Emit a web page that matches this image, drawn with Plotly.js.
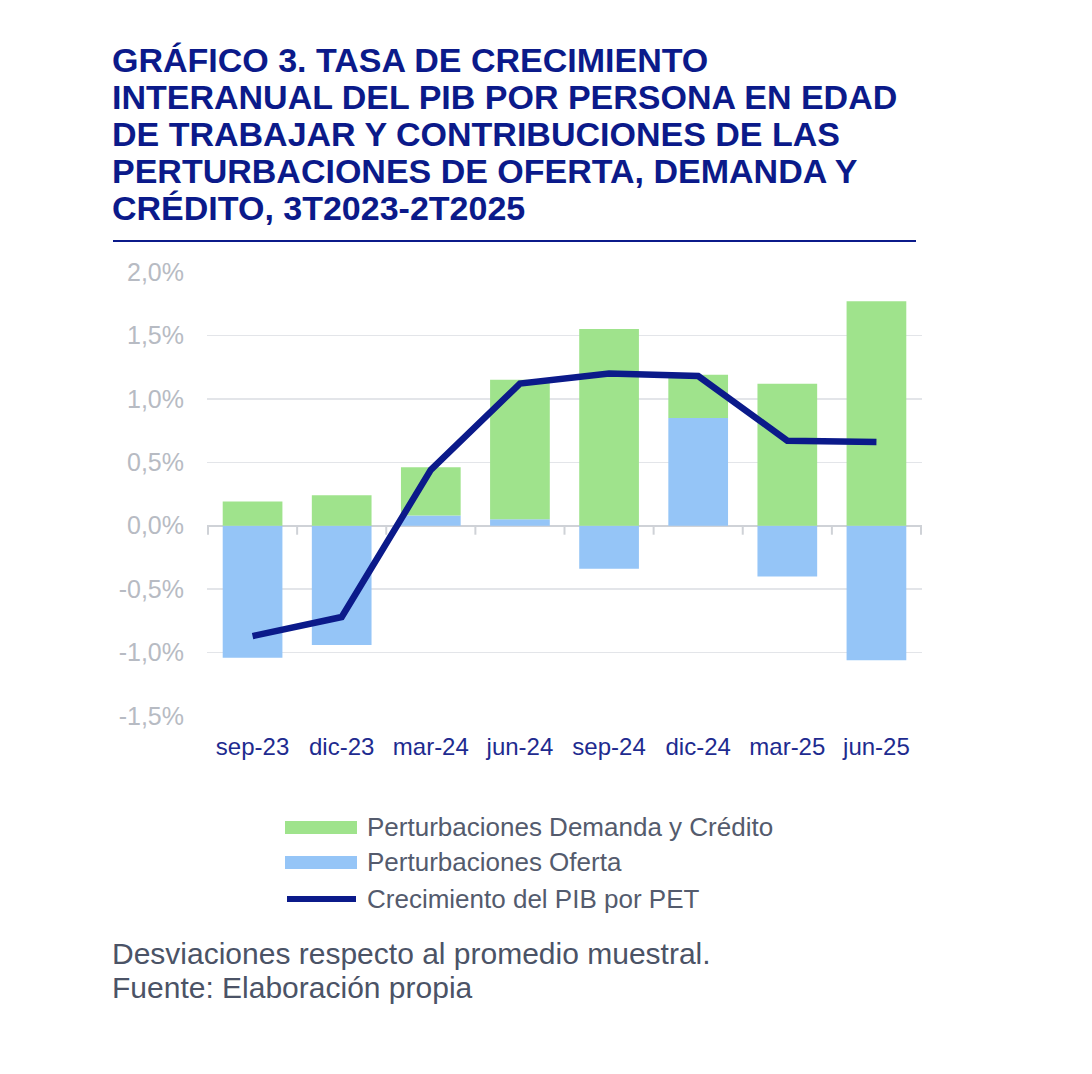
<!DOCTYPE html>
<html>
<head>
<meta charset="utf-8">
<script src="https://cdn.plot.ly/plotly-3.0.1.min.js"></script>
<style>
  html, body { margin: 0; padding: 0; background: #ffffff; }
  #chart { width: 1092px; height: 1074px; }
</style>
</head>
<body>
<div id="chart"></div>
<script>
// ---- Data ----
const categories = ["sep-23", "dic-23", "mar-24", "jun-24", "sep-24", "dic-24", "mar-25", "jun-25"];
const oferta = [-1.04, -0.94, 0.08, 0.05, -0.34, 0.85, -0.40, -1.06];
const demandaCredito = [0.19, 0.24, 0.38, 1.10, 1.55, 0.34, 1.12, 1.77];
const crecimientoPIB = [-0.87, -0.72, 0.44, 1.12, 1.20, 1.18, 0.67, 0.66];
const yTickValues = [-1.5, -1.0, -0.5, 0.0, 0.5, 1.0, 1.5, 2.0];
const yTickLabels = ["-1,5%", "-1,0%", "-0,5%", "0,0%", "0,5%", "1,0%", "1,5%", "2,0%"];

const seriesNames = {
  demanda: "Perturbaciones Demanda y Crédito",
  oferta: "Perturbaciones Oferta",
  pib: "Crecimiento del PIB por PET"
};
const titleLines = [
  "GRÁFICO 3. TASA DE CRECIMIENTO",
  "INTERANUAL DEL PIB POR PERSONA EN EDAD",
  "DE TRABAJAR Y CONTRIBUCIONES DE LAS",
  "PERTURBACIONES DE OFERTA, DEMANDA Y",
  "CRÉDITO, 3T2023-2T2025"
];
const footnotes = ["Desviaciones respecto al promedio muestral.", "Fuente: Elaboración propia"];

// ---- Styles ----
const GREEN = "#9fe38c";
const BLUE = "#95c5f7";
const NAVY = "#0b1a8a";
const FONT = "Liberation Sans, Arial, sans-serif";

const W = 1092, H = 1074;
const M = { l: 207, r: 170, t: 272, b: 358 };
const PW = W - M.l - M.r, PH = H - M.t - M.b;
const px2x = px => (px - M.l) / PW;
const py2y = py => (H - M.b - py) / PH;

const traces = [
  { type: "bar", x: categories, y: oferta, name: seriesNames.oferta,
    marker: { color: BLUE, line: { width: 0 } }, showlegend: false, hoverinfo: "x+y" },
  { type: "bar", x: categories, y: demandaCredito, name: seriesNames.demanda,
    marker: { color: GREEN, line: { width: 0 } }, showlegend: false, hoverinfo: "x+y" },
  { type: "scatter", mode: "lines", x: categories, y: crecimientoPIB, name: seriesNames.pib,
    line: { color: NAVY, width: 6.5 }, showlegend: false, hoverinfo: "x+y" }
];

const shapes = [];
// title underline
shapes.push({ type: "line", xref: "paper", yref: "paper",
  x0: px2x(113), x1: px2x(916), y0: py2y(241), y1: py2y(241),
  line: { color: NAVY, width: 2 } });
// category boundary ticks on the zero line
for (let i = 0; i <= categories.length; i++) {
  shapes.push({ type: "line", xref: "x", yref: "y", ysizemode: "pixel", yanchor: 0,
    x0: i - 0.5, x1: i - 0.5, y0: 0, y1: -9,
    line: { color: "#cfd2d7", width: 2 } });
}
// legend symbols
shapes.push({ type: "rect", xref: "paper", yref: "paper",
  x0: px2x(285), x1: px2x(357), y0: py2y(821), y1: py2y(834),
  fillcolor: GREEN, line: { width: 0 } });
shapes.push({ type: "rect", xref: "paper", yref: "paper",
  x0: px2x(285), x1: px2x(357), y0: py2y(856), y1: py2y(869),
  fillcolor: BLUE, line: { width: 0 } });
shapes.push({ type: "line", xref: "paper", yref: "paper",
  x0: px2x(287), x1: px2x(356), y0: py2y(899), y1: py2y(899),
  line: { color: NAVY, width: 6 } });

const annotations = [];
const titleCenters = [60, 97, 134, 171, 208];
titleLines.forEach((t, i) => {
  annotations.push({ xref: "paper", yref: "paper", x: px2x(110), y: py2y(titleCenters[i]),
    xanchor: "left", yanchor: "middle", text: "<b>" + t + "</b>", showarrow: false,
    font: { family: FONT, size: 34, color: NAVY } });
});
const legendFont = { family: FONT, size: 26, color: "#545b6d" };
const legendRows = [[seriesNames.demanda, 827], [seriesNames.oferta, 862], [seriesNames.pib, 899]];
legendRows.forEach(r => {
  annotations.push({ xref: "paper", yref: "paper", x: px2x(365), y: py2y(r[1]),
    xanchor: "left", yanchor: "middle", text: r[0], showarrow: false, font: legendFont });
});
const footCenters = [953, 987];
footnotes.forEach((t, i) => {
  annotations.push({ xref: "paper", yref: "paper", x: px2x(110), y: py2y(footCenters[i]),
    xanchor: "left", yanchor: "middle", text: t, showarrow: false,
    font: { family: FONT, size: 30, color: "#4b5366" } });
});

const layout = {
  width: W, height: H,
  margin: M,
  paper_bgcolor: "#ffffff", plot_bgcolor: "#ffffff",
  barmode: "relative",
  bargap: 0.33,
  showlegend: false,
  xaxis: {
    type: "category",
    showgrid: false, showline: false, zeroline: false, ticks: "",
    tickfont: { family: FONT, size: 24, color: "#1e2b8f" },
    ticklabelstandoff: 14,
    fixedrange: true
  },
  yaxis: {
    range: [-1.5, 2.0],
    tickmode: "array", tickvals: yTickValues, ticktext: yTickLabels,
    showgrid: true, gridcolor: "#e3e5e9", gridwidth: 1.5,
    zeroline: true, zerolinecolor: "#cfd2d7", zerolinewidth: 2,
    showline: false, ticks: "",
    tickfont: { family: FONT, size: 25, color: "#b7bbc3" },
    ticklabelstandoff: 22,
    fixedrange: true
  },
  shapes: shapes,
  annotations: annotations
};

Plotly.newPlot("chart", traces, layout, { displayModeBar: false, staticPlot: true });
</script>
</body>
</html>
